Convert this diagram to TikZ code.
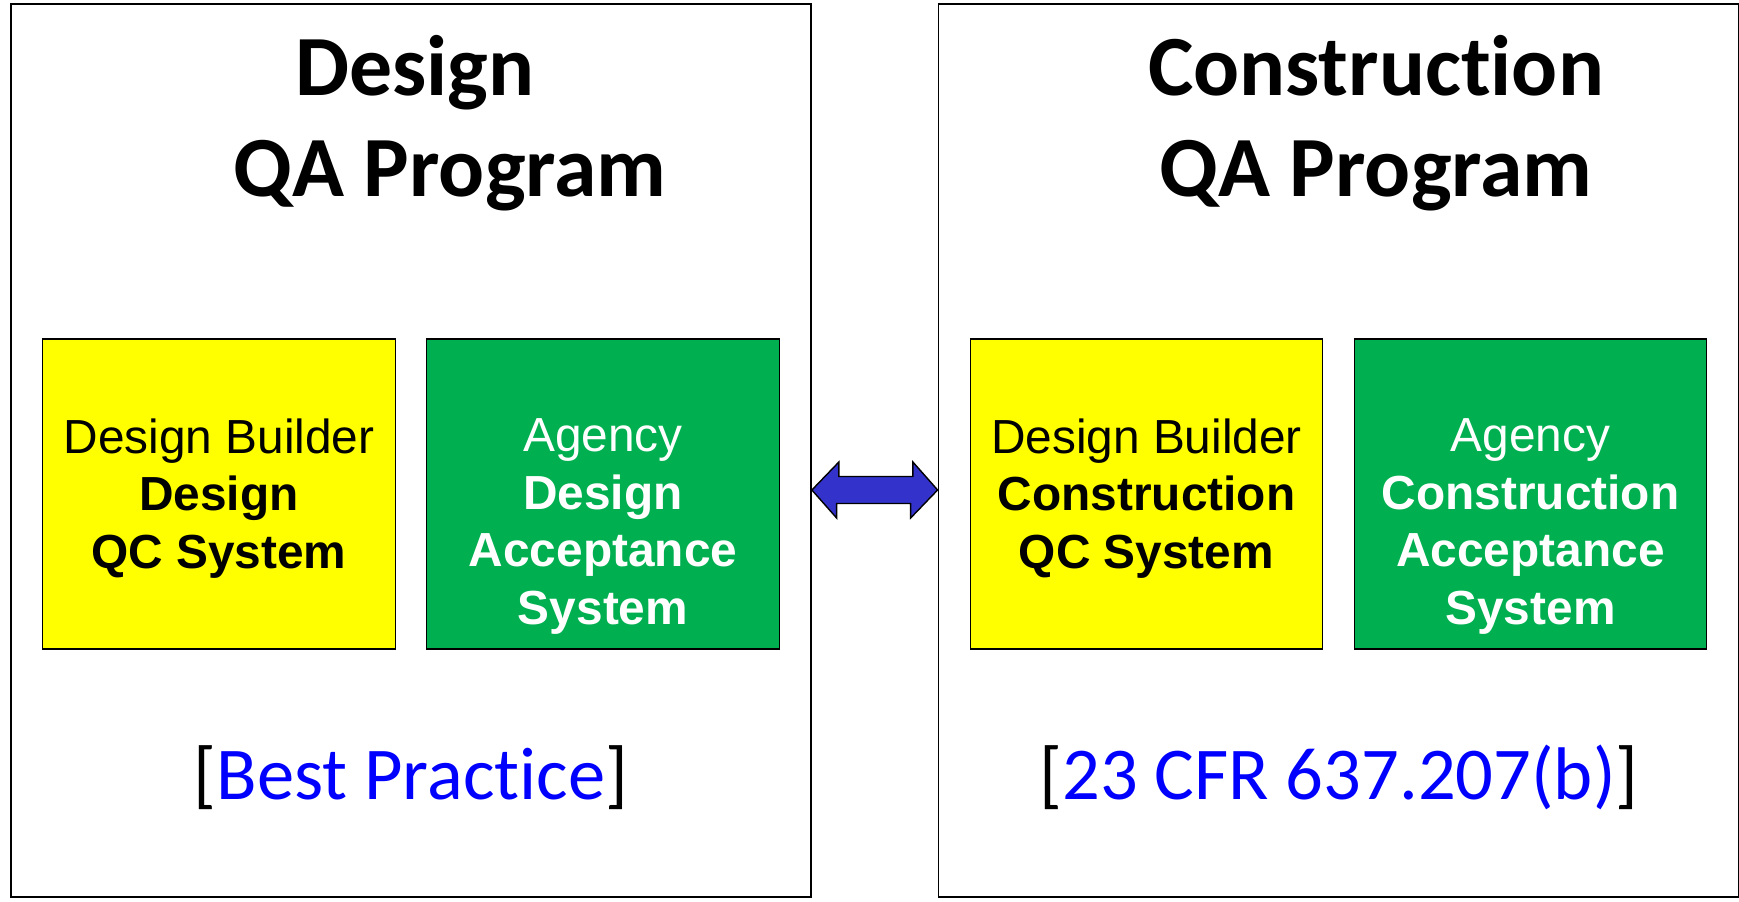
\documentclass[tikz,border=0pt]{standalone}
\usepackage{fontspec}
\setmainfont{Liberation Sans}
\newfontfamily\calfont[Ligatures=NoCommon]{Carlito}
\usepackage{tikz}
\usetikzlibrary{positioning}
\definecolor{qcyellow}{RGB}{255, 255, 0}
\definecolor{acgreen}{RGB}{0, 176, 80}
\definecolor{arrowblue}{RGB}{51, 51, 204}
\definecolor{refblue}{RGB}{0, 0, 255}
\tikzset{progbox/.style = {draw, line width=1.1pt, minimum width=20cm, minimum height=22.325cm, inner sep=0pt},
         sysbox/.style = {draw, line width=0.9pt, minimum width=8.81cm, minimum height=7.75cm, inner sep=0pt},
         systext/.style = {align=center, inner sep=0pt, font=\fontsize{34}{41}\selectfont},
         titletext/.style = {anchor=base, inner sep=0pt, font=\calfont\bfseries\fontsize{61}{72}\selectfont},
         reftext/.style = {anchor=base, inner sep=0pt, font=\calfont\fontsize{53}{62}\selectfont}}

\begin{document}
\begin{tikzpicture}[x=0.025cm, y=-0.025cm]
    \useasboundingbox (0, 0) rectangle (1739, 902);
    \node (dprog) [progbox] at (411, 450.5) {};
    \node (cprog) [progbox] at (1338.5, 450.5) {};

    \node (dtitleA) [titletext] at (415, 95) {Design};
    \node (dtitleB) [titletext] at (450, 196) {QA Program};
    \node (ctitleA) [titletext] at (1376, 95) {Construction};
    \node (ctitleB) [titletext] at (1376, 196) {QA Program};

    \node (dqc) [sysbox, fill=qcyellow] at (219, 494) {};
    \node (dac) [sysbox, fill=acgreen] at (603, 494) {};
    \node (cqc) [sysbox, fill=qcyellow] at (1146.5, 494) {};
    \node (cac) [sysbox, fill=acgreen] at (1530.5, 494) {};

    \node (dqcT) [systext, anchor=base, below=2cm of dqc.north] {Design Builder\\ \textbf{Design}\\ \textbf{QC System}};
    \node (dacT) [systext, anchor=base, below=2cm of dac.north, white] {Agency\\ \textbf{Design}\\ \textbf{Acceptance}\\ \textbf{System}};
    \node (cqcT) [systext, anchor=base, below=2cm of cqc.north] {Design Builder\\ \textbf{Construction}\\ \textbf{QC System}};
    \node (cacT) [systext, anchor=base, below=2cm of cac.north, white] {Agency\\ \textbf{Construction}\\ \textbf{Acceptance}\\ \textbf{System}};

    \node (dref) [reftext] at (411, 799) {[\textcolor{refblue}{Best Practice}]};
    \node (cref) [reftext] at (1339, 799) {[\textcolor{refblue}{23 CFR 637.207(b)}]};

    \coordinate (aw) at (dprog.east |- 0, 490);
    \coordinate (ae) at (cprog.west |- 0, 490);
    \draw [fill=arrowblue, line width=1pt, line join=miter] (aw) -- ++(27, -28) -- ++(0, 14.5) -- ++(74, 0) -- ++(0, -14.5) -- (ae)
          -- ++(-27, 28) -- ++(0, -14.5) -- ++(-74, 0) -- ++(0, 14.5) -- cycle;
  \end{tikzpicture}
\end{document}
